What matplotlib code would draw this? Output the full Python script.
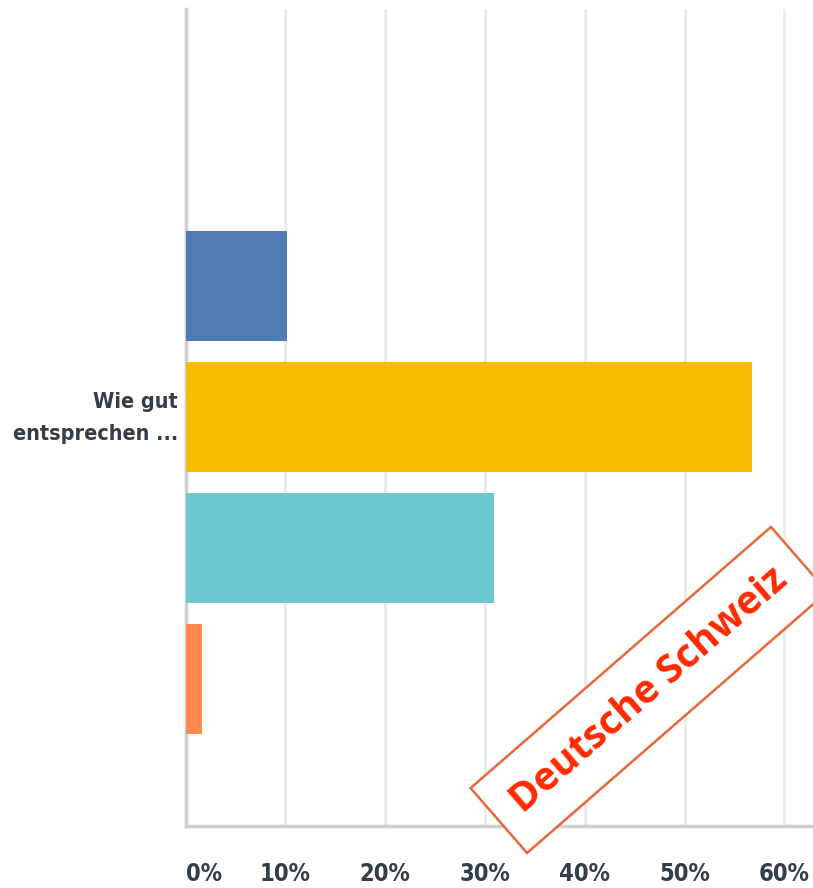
import matplotlib.pyplot as plt
from matplotlib.patches import Rectangle
import numpy as np

# Answer shares (percent) for the single question, top to bottom
shares = [10.2, 56.8, 30.9, 1.7]
bar_colors = ['#507cb6', '#f7bd00', '#6bc8cd', '#ff8b4f']
question_label = 'Wie gut\nentsprechen ...'
x_ticks = [0, 10, 20, 30, 40, 50, 60]
x_tick_labels = [f'{t}%' for t in x_ticks]
stamp_text = 'Deutsche Schweiz'

W, H = 813, 888
fig = plt.figure(figsize=(W / 100, H / 100), dpi=100)
ax = fig.add_axes([185.5 / W, (H - 826) / H, (W - 185.5) / W, (826 - 9) / H])

ypos = np.arange(len(shares))
ax.barh(ypos, shares, height=0.84, color=bar_colors, zorder=3)

ax.set_xlim(0, (W - 185.5) / 99.8 * 10)
ax.set_ylim(4.12, -2.115)

ax.set_xticks(x_ticks)
ax.set_xticklabels(x_tick_labels)
ax.set_yticks([])
ax.grid(axis='x', color='#ebebeb', linewidth=2.2, zorder=0)
ax.tick_params(axis='x', length=0, pad=26, labelsize=17, labelcolor='#333e48')
for lbl in ax.get_xticklabels():
    lbl.set_fontfamily('DejaVu Sans')
    lbl.set_fontstretch('condensed')
    lbl.set_fontweight('bold')
# first label starts at the axis instead of centring on it
ax.get_xticklabels()[0].set_ha('left')

for side in ['top', 'right']:
    ax.spines[side].set_visible(False)
for side in ['left', 'bottom']:
    ax.spines[side].set_color('#d0d0d0')
    ax.spines[side].set_linewidth(2.5)

fig.text(178 / W, 1 - 418 / H, question_label, ha='right', va='center',
         fontsize=15.5, fontweight='bold', fontstretch='condensed',
         color='#333e48', linespacing=1.75, family='DejaVu Sans')

# rotated stamp in the lower right corner
cx, cy = 649, 690
ang = 41
bw, bh = 398, 86
t = np.deg2rad(ang)
px, py = cx, H - cy
llx = px - (bw / 2) * np.cos(t) + (bh / 2) * np.sin(t)
lly = py - (bw / 2) * np.sin(t) - (bh / 2) * np.cos(t)
box = Rectangle((llx / 100, lly / 100), bw / 100, bh / 100, angle=ang,
                transform=fig.dpi_scale_trans, facecolor='white',
                edgecolor='#e8683a', linewidth=1.8, zorder=10)
fig.add_artist(box)
fig.text(px / W, py / H, stamp_text, rotation=ang, rotation_mode='anchor',
         ha='center', va='center', fontsize=28.5, fontweight='bold',
         color='#ff2a00', family=['Open Sans', 'DejaVu Sans'], zorder=11)

fig.savefig('out.png', dpi=100)
